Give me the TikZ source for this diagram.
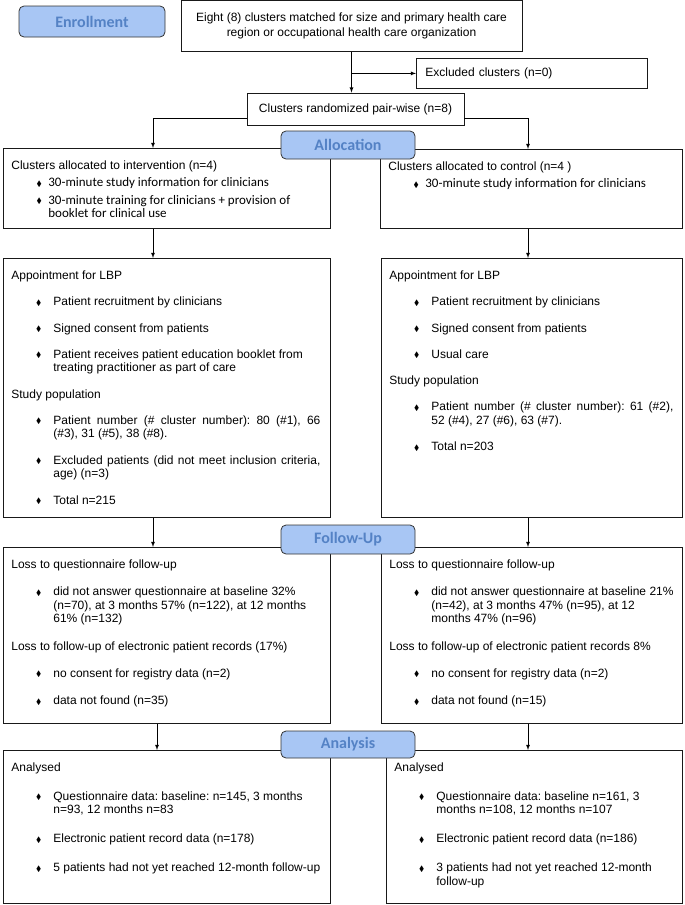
\documentclass[tikz,border=0pt]{standalone}
\usepackage{fontspec}
\setmainfont{Liberation Sans}
\newfontfamily\calfont{Carlito}
\usepackage{amssymb}
\usepackage{graphicx}
\usetikzlibrary{calc}
\definecolor{phasefill}{RGB}{168,198,244}
\definecolor{phasetext}{RGB}{84,130,197}

\newcommand{\dmark}{\raisebox{0.6pt}{\scalebox{0.65}{$\blacklozenge$}}}
\newcommand{\panel}[4]{% width, height, gap between paragraphs, text
  \parbox[t][#2][t]{#1}{\raggedright\frenchspacing\fontsize{12}{13.5}\selectfont
    \setlength{\parindent}{0pt}\setlength{\parskip}{#3}#4}}
\newcommand{\firsthead}[1]{\noindent\rule{0pt}{21pt}#1\par}
\newcommand{\bhead}[1]{\par\leftskip=0pt\relax\noindent#1\par}
\newcommand{\bitem}[1]{% item text starts 50pt from the box edge
  \par\leftskip=42pt\relax\rightskip=-6pt plus 1fil\relax
  \noindent\llap{\dmark\hspace{12pt}}#1\par}
\newcommand{\citem}[1]{% items of the allocation boxes
  \par\leftskip=37pt\relax\rightskip=-6pt plus 1fil\relax
  \noindent\llap{\dmark\hspace{6.5pt}}{\calfont\fontsize{13}{13.5}\selectfont#1}\par}
\newcommand{\jline}[2]{\makebox[#1][s]{#2}}

\begin{document}
\begin{tikzpicture}[x=1pt,y=-1pt,>=latex,line width=0.8pt,
  box/.style={draw=black!90,line width=0.8pt,font=\fontsize{12}{15}\selectfont},
  panelbox/.style={box,anchor=north west,inner xsep=8pt,inner ysep=0pt},
  phase/.style={draw=black!80,line width=0.8pt,rounded corners=5pt,fill=phasefill,
    text=phasetext,font=\calfont\bfseries\fontsize{16}{18}\selectfont,minimum width=134pt}]
\useasboundingbox (0,0) rectangle (685,905);

% Columns of the arrows
\coordinate (colL) at (153,0);
\coordinate (colL2) at (157,0);
\coordinate (colR) at (528,0);

% Enrollment
\node[phase,minimum width=146pt,minimum height=31pt] (enr) at (92,21.5) {Enrollment};
\node[box,align=center,minimum width=341pt,minimum height=50.5pt] (pool) at (351.5,26)
  {Eight (8) clusters matched for size and primary health care\\region or occupational health care organization};
\node[box,anchor=north west,minimum height=30pt,text width=213pt,align=left,inner xsep=9pt] (excl) at (416,58)
  {Excluded clusters (n=0)};
\node[box,minimum width=217pt,minimum height=32pt] (rand) at (355.5,109) {Clusters randomized pair-wise (n=8)};

\draw[->] (pool.south) -- (pool.south |- rand.north);
\draw[->] (pool.south |- excl.west) -- (excl.west);

% Allocation
\node[panelbox] (intv) at (3,148) {\panel{311pt}{80pt}{4pt}{%
  \firsthead{Clusters allocated to intervention (n=4)}
  \citem{30-minute study information for clinicians}
  \citem{30-minute training for clinicians + provision of\newline booklet for clinical use}}};
\node[panelbox] (ctrl) at (380,149) {\panel{286pt}{79pt}{4pt}{%
  \firsthead{Clusters allocated to control (n=4 )}
  \citem{30-minute study information for clinicians}}};

\draw[->] ([yshift=-9pt]rand.west) -| (colL |- intv.north);
\draw[->] ([yshift=-9pt]rand.east) -| (colR |- ctrl.north);

\node[panelbox] (aplL) at (3,258) {\panel{311pt}{259pt}{12.8pt}{%
  \firsthead{Appointment for LBP}
  \bitem{Patient recruitment by clinicians}
  \bitem{Signed consent from patients}
  \bitem{Patient receives patient education booklet from\newline treating practitioner as part of care}
  \bhead{Study population}
  \bitem{\jline{267pt}{Patient number (\# cluster number): 80 (\#1), 66}\newline (\#3), 31 (\#5), 38 (\#8).}
  \bitem{\jline{267pt}{Excluded patients (did not meet inclusion criteria,}\newline age) (n=3)}
  \bitem{Total n=215}}};
\node[panelbox] (aplR) at (381,258) {\panel{285pt}{259pt}{12.8pt}{%
  \firsthead{Appointment for LBP}
  \bitem{Patient recruitment by clinicians}
  \bitem{Signed consent from patients}
  \bitem{Usual care}
  \bhead{Study population}
  \bitem{\jline{242pt}{Patient number (\# cluster number): 61 (\#2),}\newline 52 (\#4), 27 (\#6), 63 (\#7).}
  \bitem{Total n=203}}};

\draw[->] (colL |- intv.south) -- (colL |- aplL.north);
\draw[->] (colR |- ctrl.south) -- (colR |- aplR.north);

% Follow-Up
\node[panelbox] (fupL) at (3,547) {\panel{311pt}{176pt}{13.8pt}{%
  \firsthead{Loss to questionnaire follow-up}
  \bitem{did not answer questionnaire at baseline 32\%\newline (n=70), at 3 months 57\% (n=122), at 12 months\newline 61\% (n=132)}
  \bhead{Loss to follow-up of electronic patient records (17\%)}
  \bitem{no consent for registry data (n=2)}
  \bitem{data not found (n=35)}}};
\node[panelbox] (fupR) at (381,547) {\panel{285pt}{176pt}{13.8pt}{%
  \firsthead{Loss to questionnaire follow-up}
  \bitem{did not answer questionnaire at baseline 21\%\newline (n=42), at 3 months 47\% (n=95), at 12\newline months 47\% (n=96)}
  \bhead{Loss to follow-up of electronic patient records 8\%}
  \bitem{no consent for registry data (n=2)}
  \bitem{data not found (n=15)}}};

\draw[->] (colL |- aplL.south) -- (colL |- fupL.north);
\draw[->] (colR |- aplR.south) -- (colR |- fupR.north);

% Analysis
\node[panelbox] (anaL) at (3,750) {\panel{311pt}{153pt}{15.5pt}{%
  \firsthead{Analysed}
  \bitem{Questionnaire data: baseline: n=145, 3 months\newline n=93, 12 months n=83}
  \bitem{Electronic patient record data (n=178)}
  \bitem{5 patients had not yet reached 12-month follow-up}}};
\node[panelbox] (anaR) at (386,750) {\panel{280pt}{153pt}{15.5pt}{%
  \firsthead{Analysed}
  \bitem{Questionnaire data: baseline n=161, 3\newline months n=108, 12 months n=107}
  \bitem{Electronic patient record data (n=186)}
  \bitem{3 patients had not yet reached 12-month\newline follow-up}}};

\draw[->] (colL2 |- fupL.south) -- (colL2 |- anaL.north);
\draw[->] (colR |- fupR.south) -- (colR |- anaR.north);

% Phase labels on top of the boxes
\node[phase,minimum height=28pt] (alloc) at (348,145) {Allocation};
\node[phase,minimum height=29pt] (follow) at (348,539.5) {Follow-Up};
\node[phase,minimum height=27pt] (anal) at (348,744.5) {Analysis};
\end{tikzpicture}
\end{document}
